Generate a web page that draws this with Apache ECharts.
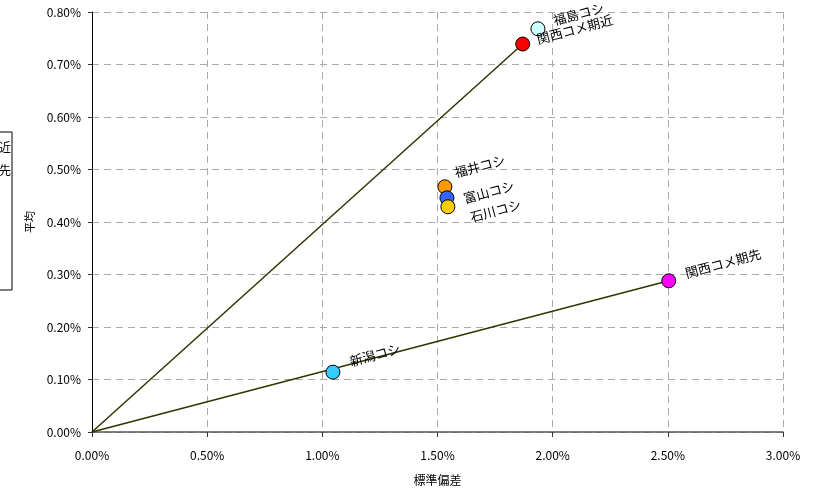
<!DOCTYPE html>
<html><head><meta charset="utf-8">
<script src="https://cdn.jsdelivr.net/npm/echarts@6/dist/echarts.min.js"></script>
<style>html,body{margin:0;padding:0;background:#fff}#c{width:817px;height:494px}</style>
</head><body><div id="c"></div>
<script>
// data (percent units)
const names = ['福島コシ','関西コメ期近','福井コシ','富山コシ','石川コシ','関西コメ期先','新潟コシ'];
const stdDev = [1.936, 1.870, 1.532, 1.541, 1.545, 2.504, 1.046];
const mean   = [0.768, 0.739, 0.467, 0.446, 0.429, 0.288, 0.114];
const xTicks = [0, 0.5, 1.0, 1.5, 2.0, 2.5, 3.0];
const yTicks = [0, 0.1, 0.2, 0.3, 0.4, 0.5, 0.6, 0.7, 0.8];
// lines from origin through these points
const lineTargets = ['関西コメ期近', '関西コメ期先'];

// styles
const colors = ['#ccffff','#ff0000','#ff9900','#3366ff','#ffcc00','#ff00ff','#33ccff'];
const labelOffsets = [[5,-7],[3,-4],[1,-14],[4,2],[7,13],[6,-6],[7,-9]];
const font = '"Noto Sans CJK JP", sans-serif';

const scatterData = names.map((n,i)=>({
  name:n, value:[stdDev[i], mean[i]],
  itemStyle:{color:colors[i], borderColor:'#000', borderWidth:1, opacity:1},
  label:{offset:labelOffsets[i]}
}));
const lineSeries = lineTargets.map(t=>{
  const i = names.indexOf(t);
  return {type:'line', data:[[0,0],[stdDev[i],mean[i]]], symbol:'none', silent:true,
    lineStyle:{color:'#333300', width:1.5}, z:1};
});

const chart = echarts.init(document.getElementById('c'));
chart.setOption({
  animation:false,
  grid:{left:92, right:34, top:12, bottom:62},
  xAxis:{type:'value', min:xTicks[0], max:xTicks[xTicks.length-1], interval:0.5,
    name:'標準偏差', nameLocation:'middle', nameGap:42,
    nameTextStyle:{color:'#000', fontSize:12, fontFamily:font},
    axisLine:{lineStyle:{color:'#555', width:1.5}},
    axisTick:{show:true, length:5, lineStyle:{color:'#333'}},
    axisLabel:{color:'#000', fontSize:12, fontFamily:font, margin:17,
      formatter:v=>v.toFixed(2)+'%'},
    splitLine:{show:true, lineStyle:{color:'#aaa', type:[7,5], width:1}}
  },
  yAxis:{type:'value', min:yTicks[0], max:yTicks[yTicks.length-1], interval:0.1,
    name:'平均', nameLocation:'middle', nameGap:54,
    nameTextStyle:{color:'#000', fontSize:11, fontFamily:font},
    axisLine:{show:true, lineStyle:{color:'#000', width:1}},
    axisTick:{show:true, length:4, lineStyle:{color:'#333'}},
    axisLabel:{color:'#000', fontSize:12, fontFamily:font, margin:11,
      formatter:v=>v.toFixed(2)+'%'},
    splitLine:{show:true, lineStyle:{color:'#aaa', type:[7,5], width:1}}
  },
  series:[...lineSeries, {
    type:'scatter', symbol:'circle', symbolSize:14, z:3,
    itemStyle:{opacity:1},
    data:scatterData,
    label:{show:true, position:'right', distance:5, rotate:15, formatter:'{b}',
      color:'#000', fontSize:13, fontFamily:font}
  }],
  graphic:[
    {type:'rect', shape:{x:-200, y:132, width:212, height:158}, style:{fill:'#fff', stroke:'#000', lineWidth:1}},
    {type:'text', x:11, y:147, style:{text:'関西コメ期近', align:'right', verticalAlign:'middle', font:'12px '+font, fill:'#000'}},
    {type:'text', x:11, y:170, style:{text:'関西コメ期先', align:'right', verticalAlign:'middle', font:'12px '+font, fill:'#000'}}
  ]
});
</script></body></html>
